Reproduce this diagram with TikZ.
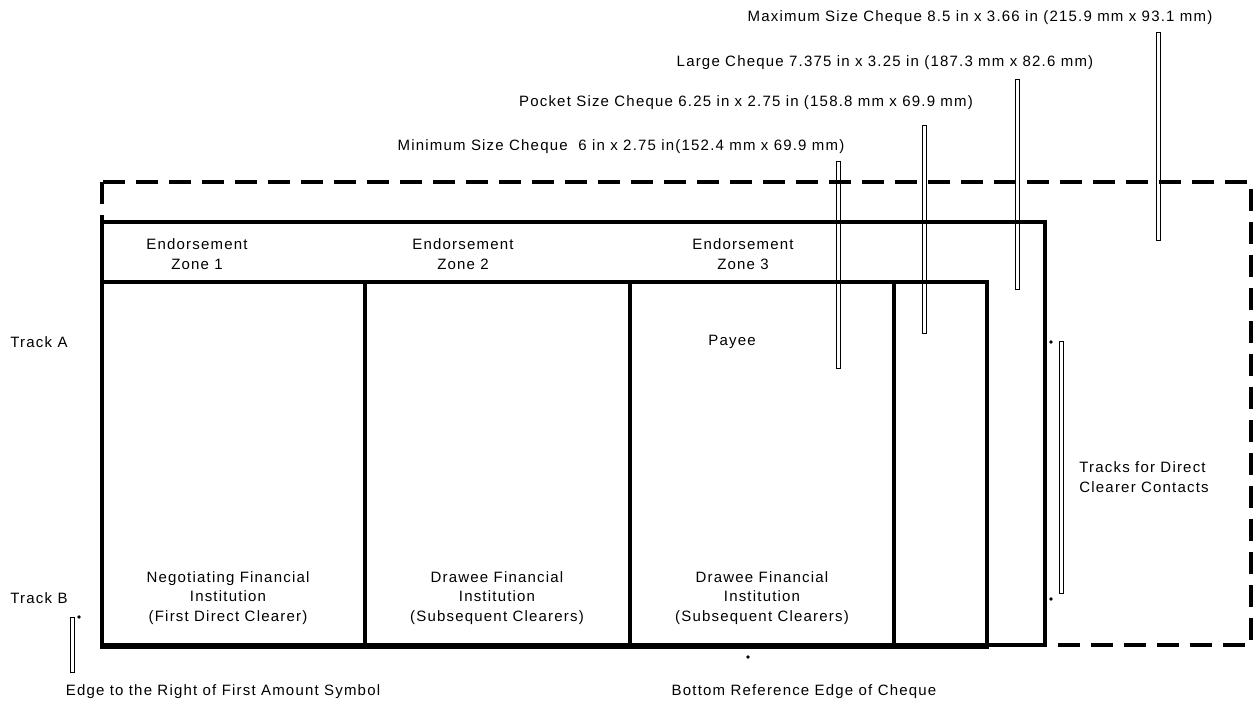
\documentclass[tikz,border=0pt]{standalone}
\usepackage{fontspec}
\setmainfont{Liberation Sans}[LetterSpace=8]
\usetikzlibrary{positioning}
\tikzset{
  basic/.style   = {inner sep=0pt, font=\fontsize{7.5}{9.7}\selectfont},
  caption/.style = {basic, anchor=center},
  zone/.style    = {basic, align=center},
  outline/.style = {line width=2pt},
  maxline/.style = {line width=2.4pt, dash pattern=on 11pt off 5.5pt},
  marker/.style  = {line width=0.5pt},
  spot/.style    = {fill, circle, inner sep=0pt, minimum size=1.8pt}
}

\begin{document}
\begin{tikzpicture}[x=0.5pt,y=-0.5pt]

\useasboundingbox (0,0) rectangle (1260,703);

% cheque outlines: maximum (dashed), large, pocket, minimum
\draw[maxline] (102,182) rectangle (1251,645);
\draw[outline] (102,222) rectangle (1045,645);
\draw[outline] (102,282) rectangle (987,647);
\draw[outline] (102,282) rectangle (894,645);
\foreach \x in {365,630}
  \draw[outline] (\x,282) -- (\x,645);

% size markers and track markers
\foreach \x/\top/\bot in {838/161/368, 924/125/333, 1017/79/289, 1158/32/240, 1061/341/593, 72/617/672}
  \draw[marker] (\x-2,\top) rectangle (\x+2,\bot);
\foreach \x/\y [count=\i] in {1051/342, 1051/599, 79/617, 748/657}
  \node[spot] (dot\i) at (\x,\y) {};

% size captions
\node[caption] (maxsize) at (980,18) {Maximum Size Cheque 8.5 in x 3.66 in (215.9 mm x 93.1 mm)};
\node[caption] (largesize) at (885,63) {Large Cheque 7.375 in x 3.25 in (187.3 mm x 82.6 mm)};
\node[caption] (pocketsize) at (746,103) {Pocket Size Cheque 6.25 in x 2.75 in (158.8 mm x 69.9 mm)};
\node[caption] (minsize) at (621,147) {Minimum Size Cheque~ 6 in x 2.75 in(152.4 mm x 69.9 mm)};

% endorsement zones
\node[zone] (ez1) at (197,254) {Endorsement\\Zone 1};
\node[zone] (ez2) at (463,254) {Endorsement\\Zone 2};
\node[zone] (ez3) at (743,254) {Endorsement\\Zone 3};
\node[caption] (payee) at (732,342) {Payee};

\node[zone] (fi1) at (228,598) {Negotiating Financial\\Institution\\(First Direct Clearer)};
\node[zone] (fi2) at (497,598) {Drawee Financial\\Institution\\(Subsequent Clearers)};
\node[zone] (fi3) at (762,598) {Drawee Financial\\Institution\\(Subsequent Clearers)};

% tracks and edges
\node[basic, anchor=west] (tracka) at (10,342) {Track A};
\node[basic, anchor=west] (trackb) at (10,598) {Track B};
\node[basic, align=left, anchor=west] (tracks) at (1079,477) {Tracks for Direct\\Clearer Contacts};
\node[caption] (amountedge) at (223,692) {Edge to the Right of First Amount Symbol};
\node[caption] (bottomedge) at (804,692) {Bottom Reference Edge of Cheque};

\end{tikzpicture}
\end{document}
